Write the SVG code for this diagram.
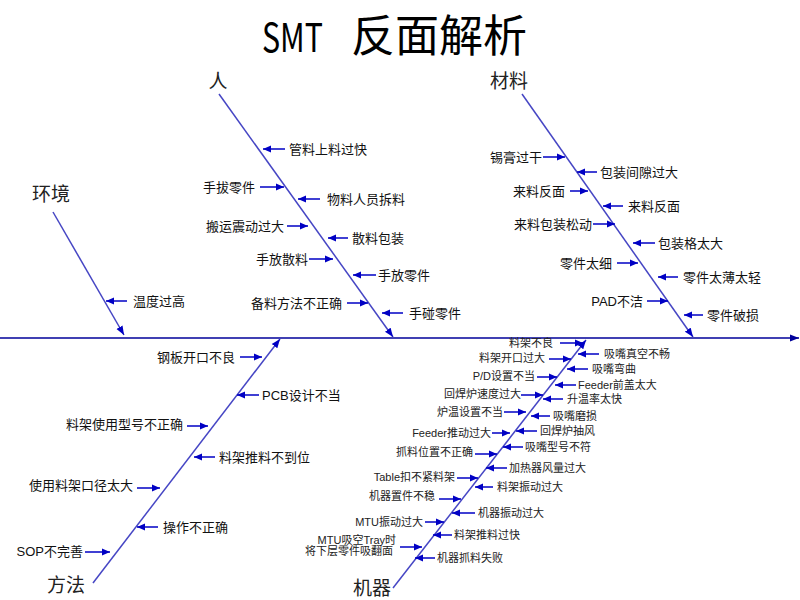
<svg xmlns="http://www.w3.org/2000/svg" width="800" height="600" viewBox="0 0 800 600">
<defs>
<style>
text{font-family:"Liberation Sans","Noto Sans CJK SC",sans-serif;fill:#111;dominant-baseline:central}
.t{font-size:13px}
.s{font-size:11px;fill:#222}
.e{text-anchor:end}
.cat{font-family:"Noto Sans CJK SC",sans-serif;font-size:19px;fill:#222;text-anchor:middle}
.ttl{font-family:"Noto Sans CJK SC",sans-serif;font-size:44px;fill:#000;dominant-baseline:auto}
.ar{stroke:#0000C4;stroke-width:1.5;fill:none;marker-end:url(#ah)}
.br{stroke:#4646C4;stroke-width:1.5;fill:none;marker-end:url(#bh)}
.sp{stroke:#00009A;stroke-width:1.5;fill:none;marker-end:url(#sh)}
</style>
<marker id="ah" markerUnits="userSpaceOnUse" markerWidth="9" markerHeight="8" refX="8" refY="4" orient="auto"><path d="M0,0.5 L8,4 L0,7.5 z" fill="#0000C4"/></marker>
<marker id="bh" markerUnits="userSpaceOnUse" markerWidth="10" markerHeight="8" refX="9" refY="4" orient="auto"><path d="M0,0.5 L9,4 L0,7.5 z" fill="#0000C4"/></marker>
<marker id="sh" markerUnits="userSpaceOnUse" markerWidth="10" markerHeight="8" refX="9" refY="4" orient="auto"><path d="M0,0.5 L9,4 L0,7.5 z" fill="#00009A"/></marker>
</defs>
<rect width="800" height="600" fill="#fff"/>

<g id="title">
<text class="ttl" x="262" y="52" font-size="40" textLength="61" lengthAdjust="spacingAndGlyphs" style="font-size:40px">SMT</text>
<text class="ttl" x="351" y="52">反面解析</text>
</g>

<g id="connectors">
<line class="sp" x1="0" y1="338" x2="799" y2="338"/>
<line class="br" x1="219" y1="94" x2="393" y2="337"/>
<line class="br" x1="522" y1="94" x2="693" y2="337"/>
<line class="br" x1="53" y1="212" x2="124" y2="335"/>
<line class="br" x1="93" y1="583" x2="280" y2="339"/>
<line class="br" x1="393" y1="588" x2="586" y2="340"/>
<!-- 人 -->
<line class="ar" x1="285" y1="149" x2="263" y2="149"/>
<line class="ar" x1="260" y1="187" x2="284" y2="187"/>
<line class="ar" x1="320" y1="199" x2="298" y2="199"/>
<line class="ar" x1="287" y1="226" x2="308" y2="226"/>
<line class="ar" x1="348" y1="238" x2="328" y2="238"/>
<line class="ar" x1="309" y1="259" x2="333" y2="259"/>
<line class="ar" x1="376" y1="275" x2="353" y2="275"/>
<line class="ar" x1="347" y1="303" x2="368" y2="303"/>
<line class="ar" x1="403" y1="313" x2="382" y2="313"/>
<!-- 材料 -->
<line class="ar" x1="543" y1="157" x2="565" y2="157"/>
<line class="ar" x1="597" y1="172" x2="577" y2="172"/>
<line class="ar" x1="570" y1="191" x2="588" y2="191"/>
<line class="ar" x1="623" y1="206" x2="603" y2="206"/>
<line class="ar" x1="593" y1="224" x2="615" y2="224"/>
<line class="ar" x1="655" y1="243" x2="633" y2="243"/>
<line class="ar" x1="617" y1="263" x2="638" y2="263"/>
<line class="ar" x1="678" y1="277" x2="658" y2="277"/>
<line class="ar" x1="647" y1="301" x2="668" y2="301"/>
<line class="ar" x1="703" y1="315" x2="684" y2="315"/>
<!-- 环境 -->
<line class="ar" x1="127" y1="301" x2="106" y2="301"/>
<!-- 方法 -->
<line class="ar" x1="240" y1="357" x2="262" y2="357"/>
<line class="ar" x1="259" y1="395" x2="237" y2="395"/>
<line class="ar" x1="187" y1="426" x2="208" y2="426"/>
<line class="ar" x1="215" y1="457" x2="194" y2="457"/>
<line class="ar" x1="137" y1="488" x2="160" y2="488"/>
<line class="ar" x1="158" y1="527" x2="137" y2="527"/>
<line class="ar" x1="85" y1="552" x2="110" y2="552"/>
<!-- 机器 -->
<line class="ar" x1="560" y1="343" x2="583" y2="343"/>
<line class="ar" x1="599" y1="354" x2="578" y2="354"/>
<line class="ar" x1="549" y1="359" x2="571" y2="359"/>
<line class="ar" x1="588" y1="369" x2="567" y2="369"/>
<line class="ar" x1="537" y1="377" x2="557" y2="377"/>
<line class="ar" x1="576" y1="385" x2="555" y2="385"/>
<line class="ar" x1="521" y1="395" x2="543" y2="395"/>
<line class="ar" x1="563" y1="399" x2="543" y2="399"/>
<line class="ar" x1="504" y1="412" x2="526" y2="412"/>
<line class="ar" x1="550" y1="416" x2="531" y2="416"/>
<line class="ar" x1="537" y1="431" x2="516" y2="431"/>
<line class="ar" x1="492" y1="433" x2="510" y2="433"/>
<line class="ar" x1="523" y1="447" x2="503" y2="447"/>
<line class="ar" x1="475" y1="454" x2="497" y2="454"/>
<line class="ar" x1="507" y1="468" x2="486" y2="468"/>
<line class="ar" x1="457" y1="478" x2="478" y2="478"/>
<line class="ar" x1="493" y1="487" x2="475" y2="487"/>
<line class="ar" x1="439" y1="499" x2="461" y2="499"/>
<line class="ar" x1="475" y1="513" x2="452" y2="513"/>
<line class="ar" x1="425" y1="522" x2="444" y2="522"/>
<line class="ar" x1="452" y1="535" x2="433" y2="535"/>
<line class="ar" x1="400" y1="547" x2="422" y2="547"/>
<line class="ar" x1="435" y1="558" x2="415" y2="558"/>
</g>

<g id="cat-ren"><text class="cat" x="218" y="79">人</text></g>
<g id="cat-cailiao"><text class="cat" x="509" y="79">材料</text></g>
<g id="cat-huanjing"><text class="cat" x="51" y="192">环境</text></g>
<g id="cat-fangfa"><text class="cat" x="66" y="583">方法</text></g>
<g id="cat-jiqi"><text class="cat" x="372" y="586">机器</text></g>

<g id="ren-causes">
<g id="r1"><text class="t" x="289" y="149">管料上料过快</text></g>
<g id="r2"><text class="t e" x="255" y="187">手拔零件</text></g>
<g id="r3"><text class="t" x="327" y="199">物料人员拆料</text></g>
<g id="r4"><text class="t e" x="284" y="226">搬运震动过大</text></g>
<g id="r5"><text class="t" x="352" y="238">散料包装</text></g>
<g id="r6"><text class="t e" x="308" y="259">手放散料</text></g>
<g id="r7"><text class="t" x="378" y="275">手放零件</text></g>
<g id="r8"><text class="t e" x="342" y="303">备料方法不正确</text></g>
<g id="r9"><text class="t" x="409" y="313">手碰零件</text></g>
</g>

<g id="cailiao-causes">
<g id="c1"><text class="t e" x="542" y="157">锡膏过干</text></g>
<g id="c2"><text class="t" x="600" y="172">包装间隙过大</text></g>
<g id="c3"><text class="t e" x="565" y="191">来料反面</text></g>
<g id="c4"><text class="t" x="628" y="206">来料反面</text></g>
<g id="c5"><text class="t e" x="592" y="224">来料包装松动</text></g>
<g id="c6"><text class="t" x="658" y="243">包装格太大</text></g>
<g id="c7"><text class="t e" x="612" y="263">零件太细</text></g>
<g id="c8"><text class="t" x="683" y="277">零件太薄太轻</text></g>
<g id="c9"><text class="t e" x="643" y="301">PAD不洁</text></g>
<g id="c10"><text class="t" x="707" y="315">零件破损</text></g>
</g>

<g id="huanjing-causes">
<g id="h1"><text class="t" x="133" y="301">温度过高</text></g>
</g>

<g id="fangfa-causes">
<g id="f1"><text class="t e" x="235" y="357">钢板开口不良</text></g>
<g id="f2"><text class="t" x="262" y="395">PCB设计不当</text></g>
<g id="f3"><text class="t e" x="183" y="424">料架使用型号不正确</text></g>
<g id="f4"><text class="t" x="219" y="457">料架推料不到位</text></g>
<g id="f5"><text class="t e" x="133" y="485">使用料架口径太大</text></g>
<g id="f6"><text class="t" x="163" y="527">操作不正确</text></g>
<g id="f7"><text class="t e" x="83" y="551">SOP不完善</text></g>
</g>

<g id="jiqi-causes">
<g id="m1"><text class="s e" x="553" y="343">料架不良</text></g>
<g id="m2"><text class="s" x="604" y="354">吸嘴真空不畅</text></g>
<g id="m3"><text class="s e" x="545" y="358">料架开口过大</text></g>
<g id="m4"><text class="s" x="592" y="369">吸嘴弯曲</text></g>
<g id="m5"><text class="s e" x="535" y="376">P/D设置不当</text></g>
<g id="m6"><text class="s" x="578" y="385">Feeder前盖太大</text></g>
<g id="m7"><text class="s e" x="521" y="394">回焊炉速度过大</text></g>
<g id="m8"><text class="s" x="567" y="399">升温率太快</text></g>
<g id="m9"><text class="s e" x="503" y="412">炉温设置不当</text></g>
<g id="m10"><text class="s" x="553" y="416">吸嘴磨损</text></g>
<g id="m11"><text class="s" x="540" y="431">回焊炉抽风</text></g>
<g id="m12"><text class="s e" x="491" y="433">Feeder推动过大</text></g>
<g id="m13"><text class="s" x="525" y="447">吸嘴型号不符</text></g>
<g id="m14"><text class="s e" x="473" y="452">抓料位置不正确</text></g>
<g id="m15"><text class="s" x="509" y="468">加热器风量过大</text></g>
<g id="m16"><text class="s e" x="455" y="477">Table扣不紧料架</text></g>
<g id="m17"><text class="s" x="497" y="487">料架振动过大</text></g>
<g id="m18"><text class="s e" x="435" y="496">机器置件不稳</text></g>
<g id="m19"><text class="s" x="478" y="513">机器振动过大</text></g>
<g id="m20"><text class="s e" x="423" y="522">MTU振动过大</text></g>
<g id="m21"><text class="s" x="454" y="535">料架推料过快</text></g>
<g id="m22"><text class="s e" x="396" y="540">MTU吸空Tray时</text><text class="s e" x="393" y="551">将下层零件吸翻面</text></g>
<g id="m23"><text class="s" x="437" y="558">机器抓料失败</text></g>
</g>
</svg>
